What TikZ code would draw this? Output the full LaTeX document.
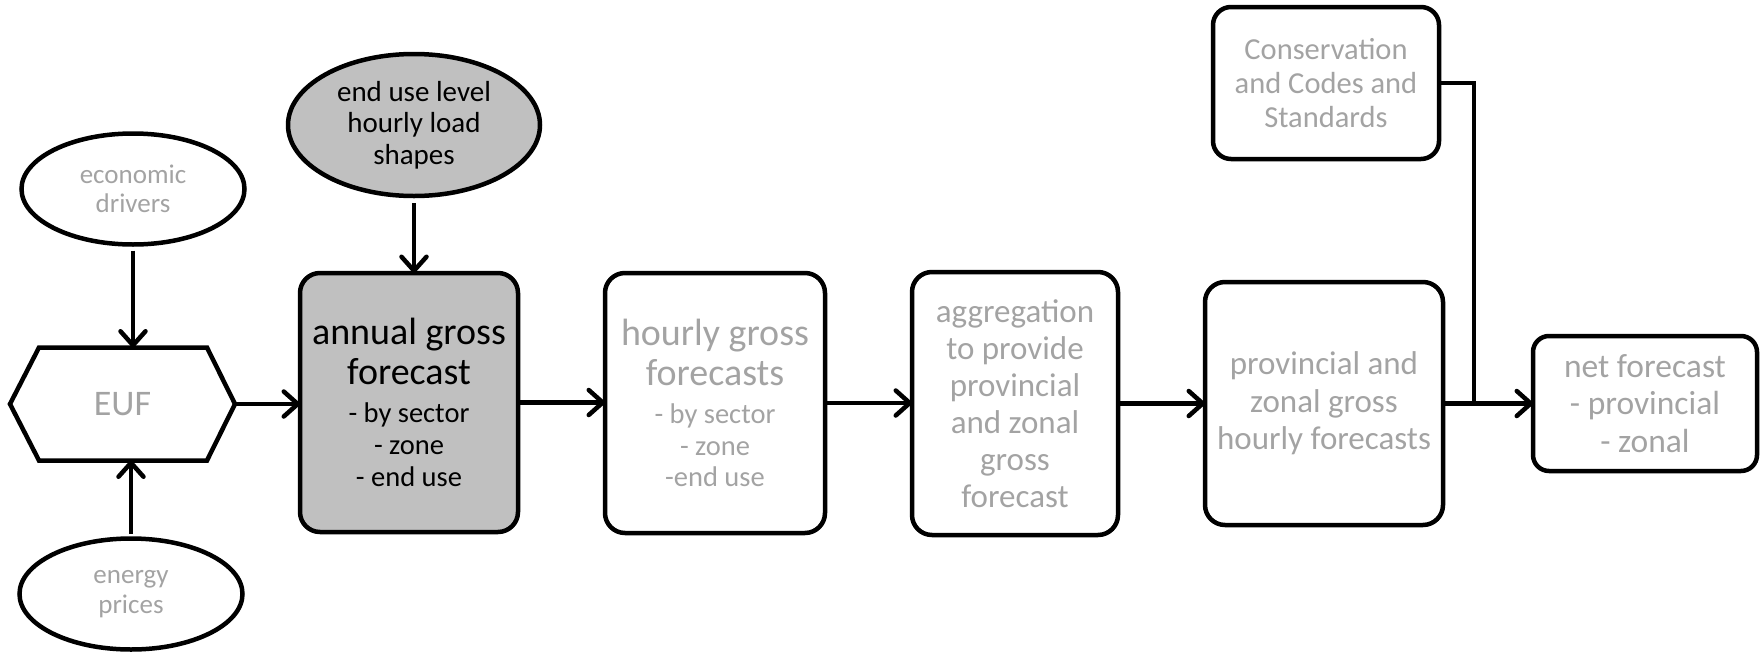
\documentclass[tikz,border=0pt]{standalone}
\usepackage{fontspec}
\setmainfont{Carlito}
\usetikzlibrary{arrows.meta,shapes.geometric,calc}
\definecolor{softgray}{RGB}{163,163,163}
\definecolor{boxgray}{RGB}{192,192,192}
\newcommand{\smallline}{\fontsize{28.5}{32}\selectfont}
\begin{document}
\begin{tikzpicture}[x=1pt,y=-1pt,
  every node/.style={inner sep=0pt, outer sep=0pt},
  outline/.style={draw=black, line width=4.5pt},
  oval/.style={outline, ellipse, align=center},
  card/.style={outline, rounded corners=20pt, align=center},
  link/.style={line width=4.5pt, -{Straight Barb[length=14pt,width=25pt,round]}},
  bigtext/.style={font=\fontsize{38}{40}\selectfont},
]
\useasboundingbox (0,0) rectangle (1762,651);

% inputs on the left
\node[oval, minimum width=223pt, minimum height=111pt, text=softgray,
      font=\fontsize{27}{29}\selectfont] (eco) at (133,189) {economic\\drivers};
\node[oval, minimum width=223pt, minimum height=111pt, text=softgray,
      font=\fontsize{27}{30}\selectfont] (energy) at (131,594) {energy\\prices};
\node[oval, fill=boxgray, minimum width=252pt, minimum height=142pt,
      font=\fontsize{29}{31.5}\selectfont] (enduse) at (414,125) {end use level\\hourly load\\shapes};

% EUF hexagon
\node[minimum width=225pt, minimum height=113pt, text=softgray,
      font=\fontsize{36}{40}\selectfont] (euf) at (122.5,404) {EUF};
\draw[outline, line join=miter]
  (euf.west) -- ([xshift=29pt]euf.north west) -- ([xshift=-28pt]euf.north east)
  -- (euf.east) -- ([xshift=-28pt]euf.south east) -- ([xshift=29pt]euf.south west) -- cycle;

% main chain
\node[card, fill=boxgray, minimum width=218pt, minimum height=259pt, bigtext] (annual) at (409,402.5)
  {annual gross\\forecast\\[-2pt]\smallline - by sector\\[-8pt]\smallline - zone\\[-8pt]\smallline - end use};
\node[card, minimum width=220pt, minimum height=260pt, text=softgray, bigtext] (hourly) at (715,403)
  {hourly gross\\forecasts\\[-2pt]\smallline - by sector\\[-8pt]\smallline - zone\\[-9pt]\smallline -end use};
\node[card, minimum width=206pt, minimum height=263pt, text=softgray,
      font=\fontsize{33}{37}\selectfont] (agg) at (1015,403.5)
  {aggregation\\to provide\\provincial\\and zonal\\gross\\forecast};
\node[card, minimum width=238pt, minimum height=243pt, text=softgray,
      font=\fontsize{33}{37.5}\selectfont] (prov) at (1324,403.5)
  {provincial and\\zonal gross\\hourly forecasts};
\node[card, rounded corners=18pt, minimum width=226pt, minimum height=152pt, text=softgray,
      font=\fontsize{30.5}{34}\selectfont] (cons) at (1326,83)
  {Conservation\\and Codes and\\Standards};
\node[card, rounded corners=16pt, minimum width=224pt, minimum height=135pt, text=softgray,
      font=\fontsize{33.5}{37.5}\selectfont] (net) at (1645,403.5)
  {net forecast\\- provincial\\- zonal};

\coordinate (join) at (1474,403.5);

% connectors
\draw[link] ([yshift=-6pt]eco.south) -- (eco.south |- euf.north);
\draw[link] ([yshift=5pt]energy.north) -- (energy.north |- euf.south);
\draw[link] ([yshift=-7pt]enduse.south) -- (enduse.south |- annual.north);
\draw[link] (euf.east) -- (euf.east -| annual.west);
\draw[link] (annual.east) -- (annual.east -| hourly.west);
\draw[link] (hourly.east) -- (hourly.east -| agg.west);
\draw[link] (agg.east) -- (agg.east -| prov.west);
\draw[link] (prov.east) -- (prov.east -| net.west);
\draw[line width=4.5pt, line join=miter] ([xshift=2pt]cons.east) -| (join);
\end{tikzpicture}
\end{document}
